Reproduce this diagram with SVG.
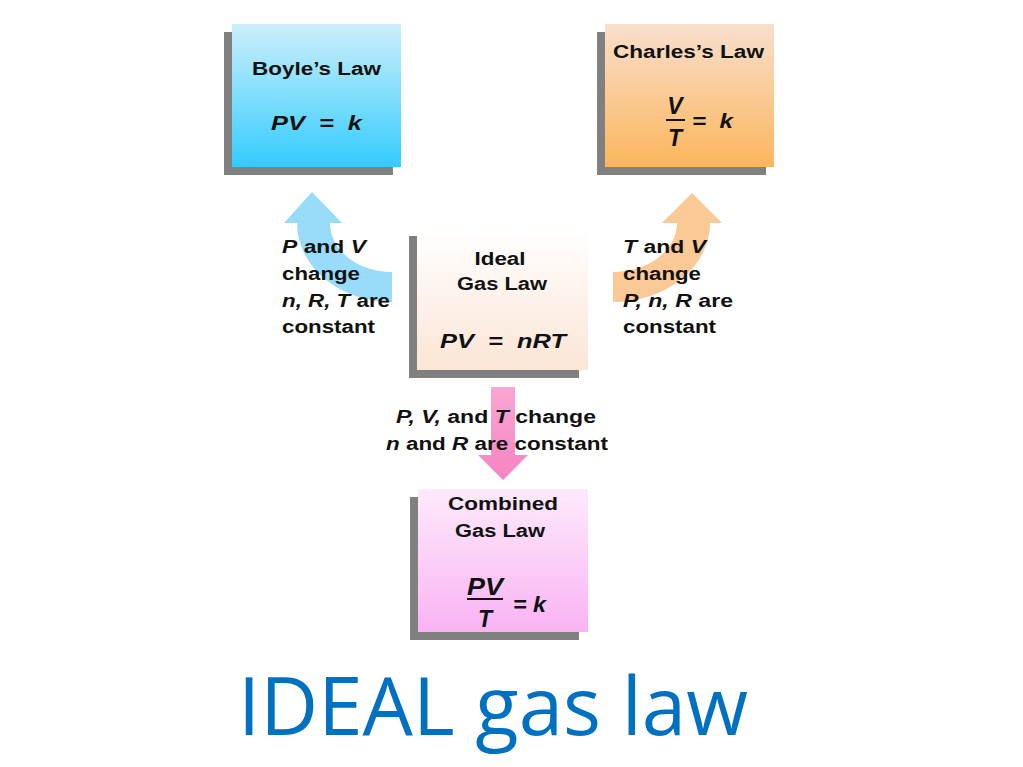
<svg xmlns="http://www.w3.org/2000/svg" width="1023" height="767" viewBox="0 0 1023 767">
<defs>
<linearGradient id="gBlue" x1="0" y1="0" x2="0" y2="1"><stop offset="0" stop-color="#cdeffb"/><stop offset="1" stop-color="#33ccff"/></linearGradient>
<linearGradient id="gOrange" x1="0" y1="0" x2="0" y2="1"><stop offset="0" stop-color="#f9dfcd"/><stop offset="1" stop-color="#fbb65c"/></linearGradient>
<linearGradient id="gIdeal" x1="0" y1="0" x2="0" y2="1"><stop offset="0" stop-color="#ffffff"/><stop offset="1" stop-color="#fbe5d6"/></linearGradient>
<linearGradient id="gPink" x1="0" y1="0" x2="0" y2="1"><stop offset="0" stop-color="#fdeafb"/><stop offset="1" stop-color="#f9b3f3"/></linearGradient>
<linearGradient id="gArrowPink" x1="0" y1="0" x2="0" y2="1"><stop offset="0" stop-color="#f9a6d3"/><stop offset="1" stop-color="#f783c2"/></linearGradient>
</defs>
<style>
.shadow{fill:#808080}
.t{font-family:"Liberation Sans",Arial,sans-serif;font-weight:bold;font-size:18px;fill:#111}
.eq{font-family:"Liberation Sans",Arial,sans-serif;font-weight:bold;font-style:italic;font-size:20px;fill:#111}
.fr{font-family:"Liberation Sans",Arial,sans-serif;font-weight:bold;font-style:italic;font-size:23px;fill:#111}
.i{font-style:italic}
.bar{stroke:#111;stroke-width:2}
.title{font-family:"Open Sans","Noto Sans",sans-serif;font-size:80px;fill:#0070c0}
</style>
<rect width="1023" height="767" fill="#ffffff"/>

<g id="connectors">
<path id="arrow-boyle" d="M297,223 A95,79 0 0 0 392,302 L392,272 A62,49 0 0 1 330,223 L342,223 L312,192 L284,223 Z" fill="#99dcfa"/>
<path id="arrow-charles" d="M710,223 A97,79 0 0 1 613,302 L613,272 A64,49 0 0 0 677,223 L662,223 L692,193 L722,223 Z" fill="#fbc995"/>
<path id="arrow-combined" d="M491,387 L515,387 L515,455 L528,455 L503,480 L478,455 L491,455 Z" fill="url(#gArrowPink)"/>
<g id="label-boyle">
<text class="t" x="282" y="253" textLength="84" lengthAdjust="spacingAndGlyphs"><tspan class="i">P</tspan> and <tspan class="i">V</tspan></text>
<text class="t" x="282" y="280" textLength="78" lengthAdjust="spacingAndGlyphs">change</text>
<text class="t" x="282" y="307" textLength="108" lengthAdjust="spacingAndGlyphs"><tspan class="i">n, R, T</tspan> are</text>
<text class="t" x="282" y="333" textLength="93" lengthAdjust="spacingAndGlyphs">constant</text>
</g>
<g id="label-charles">
<text class="t" x="623" y="253" textLength="83" lengthAdjust="spacingAndGlyphs"><tspan class="i">T</tspan> and <tspan class="i">V</tspan></text>
<text class="t" x="623" y="280" textLength="78" lengthAdjust="spacingAndGlyphs">change</text>
<text class="t" x="623" y="307" textLength="110" lengthAdjust="spacingAndGlyphs"><tspan class="i">P, n, R</tspan> are</text>
<text class="t" x="623" y="333" textLength="93" lengthAdjust="spacingAndGlyphs">constant</text>
</g>
<g id="label-combined">
<text class="t" x="396" y="423" textLength="200" lengthAdjust="spacingAndGlyphs"><tspan class="i">P, V,</tspan> and <tspan class="i">T</tspan> change</text>
<text class="t" x="386" y="450" textLength="222" lengthAdjust="spacingAndGlyphs"><tspan class="i">n</tspan> and <tspan class="i">R</tspan> are constant</text>
</g>
</g>

<g id="boyle">
<rect class="shadow" x="224" y="32" width="169" height="143"/>
<rect x="232" y="24" width="169" height="143" fill="url(#gBlue)"/>
<text class="t" x="252" y="75" textLength="129" lengthAdjust="spacingAndGlyphs">Boyle’s Law</text>
<text class="eq" x="271" y="130" textLength="91" lengthAdjust="spacingAndGlyphs" xml:space="preserve">PV  =  k</text>
</g>

<g id="charles">
<rect class="shadow" x="597" y="32" width="169" height="143"/>
<rect x="605" y="24" width="169" height="143" fill="url(#gOrange)"/>
<text class="t" x="613" y="58" textLength="151" lengthAdjust="spacingAndGlyphs">Charles’s Law</text>
<text class="fr" x="675" y="114" text-anchor="middle">V</text>
<line class="bar" x1="666" y1="120" x2="685" y2="120"/>
<text class="fr" x="675" y="146" text-anchor="middle">T</text>
<text class="eq" x="692" y="128" textLength="41" lengthAdjust="spacingAndGlyphs" xml:space="preserve">=  k</text>
</g>

<g id="ideal">
<rect class="shadow" x="409" y="236" width="170" height="142"/>
<rect x="417" y="228" width="171" height="142" fill="url(#gIdeal)"/>
<text class="t" x="500" y="265" text-anchor="middle" textLength="51" lengthAdjust="spacingAndGlyphs">Ideal</text>
<text class="t" x="502" y="290" text-anchor="middle" textLength="90" lengthAdjust="spacingAndGlyphs">Gas Law</text>
<text class="eq" x="440" y="348" textLength="126" lengthAdjust="spacingAndGlyphs" xml:space="preserve">PV  =  nRT</text>
</g>

<g id="combined">
<rect class="shadow" x="410" y="497" width="169" height="143"/>
<rect x="418" y="489" width="170" height="143" fill="url(#gPink)"/>
<text class="t" x="448" y="510" textLength="110" lengthAdjust="spacingAndGlyphs">Combined</text>
<text class="t" x="455" y="537" textLength="90" lengthAdjust="spacingAndGlyphs">Gas Law</text>
<text class="fr" x="485" y="595" text-anchor="middle" textLength="36" lengthAdjust="spacingAndGlyphs">PV</text>
<line class="bar" x1="467" y1="599" x2="503" y2="599"/>
<text class="fr" x="485" y="627" text-anchor="middle">T</text>
<text class="fr" x="513" y="612" textLength="33" lengthAdjust="spacingAndGlyphs" style="font-size:22px">= k</text>
</g>

<g id="title">
<text class="title" x="238" y="735" textLength="510" lengthAdjust="spacingAndGlyphs">IDEAL gas law</text>
</g>
</svg>
